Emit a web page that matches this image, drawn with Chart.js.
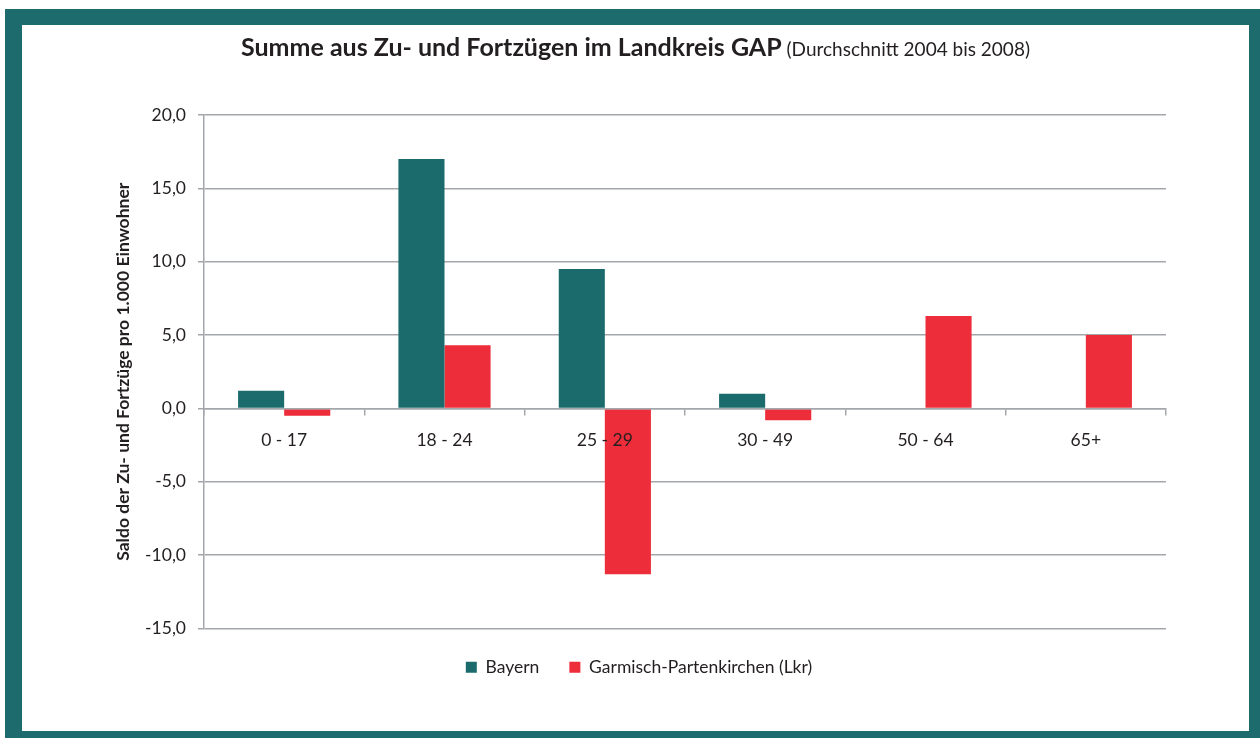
<!DOCTYPE html>
<html>
<head>
<meta charset="utf-8">
<script src="https://cdn.jsdelivr.net/npm/chart.js@4.4.1/dist/chart.umd.min.js"></script>
<style>
  html, body { margin: 0; padding: 0; background: #fff; }
  .frame {
    position: absolute; left: 5px; top: 9px;
    width: 1227px; height: 706px;
    border-style: solid; border-color: #1d6b6d;
    border-width: 16px 11px 7px 17px;
    background: #fff;
  }
  .frame canvas { display: block; }
</style>
</head>
<body>
<div class="frame"><canvas id="chart" width="1227" height="706"></canvas></div>
<script>
'use strict';

// data
const categories = ['0 - 17', '18 - 24', '25 - 29', '30 - 49', '50 - 64', '65+'];
const bayern = [1.2, 17.0, 9.5, 1.0, 0.05, 0.05];
const garmisch = [-0.5, 4.3, -11.3, -0.8, 6.3, 5.0];
const seriesNames = ['Bayern', 'Garmisch-Partenkirchen (Lkr)'];
const titleBold = 'Summe aus Zu- und Fortzügen im Landkreis GAP';
const titleNormal = ' (Durchschnitt 2004 bis 2008)';
const yTitle = 'Saldo der Zu- und Fortzüge pro 1.000 Einwohner';

const teal = '#1c6b6c';
const red = '#ee2d3a';
const gridGray = '#a3a7ab';
const textColor = '#231f20';
const fontFam = 'Lato, "Open Sans", sans-serif';
const fs = 17.5;

// title with bold + normal part, centred on the canvas
const titlePlugin = {
  id: 'mixedTitle',
  afterDraw(chart) {
    const ctx = chart.ctx;
    ctx.save();
    ctx.fillStyle = textColor;
    ctx.textBaseline = 'alphabetic';
    ctx.font = 'bold 25px ' + fontFam;
    const w1 = ctx.measureText(titleBold).width;
    ctx.font = '19px ' + fontFam;
    const w2 = ctx.measureText(titleNormal).width;
    const x0 = chart.width / 2 - (w1 + w2) / 2;
    ctx.font = 'bold 25px ' + fontFam;
    ctx.fillText(titleBold, x0, 31);
    ctx.font = '19px ' + fontFam;
    ctx.fillText(titleNormal, x0 + w1, 31);
    ctx.restore();
  }
};

// nudge the legend a bit to the right, as in the original
const legendShift = {
  id: 'legendShift',
  afterLayout(chart) {
    chart.legend.left += 14;
    chart.legend.right += 14;
  }
};

new Chart(document.getElementById('chart'), {
  type: 'bar',
  data: {
    labels: categories,
    datasets: [
      { label: seriesNames[0], data: bayern, backgroundColor: teal },
      { label: seriesNames[1], data: garmisch, backgroundColor: red }
    ]
  },
  options: {
    responsive: false,
    animation: false,
    layout: { padding: { top: 90, right: 83, bottom: 45, left: 62 } },
    datasets: {
      bar: { barPercentage: 1, categoryPercentage: 0.575 }
    },
    scales: {
      x: {
        position: { y: 0 },
        grid: {
          display: true, drawOnChartArea: false, drawTicks: true,
          tickLength: 6, offset: true, color: gridGray, lineWidth: 1.5
        },
        border: { display: true, color: gridGray, width: 1.5, z: 1 },
        ticks: { z: 1, padding: 15, color: textColor, font: { family: fontFam, size: fs } }
      },
      y: {
        min: -15, max: 20,
        afterFit(scale) { scale.width = 120; },
        ticks: {
          stepSize: 5, padding: 12, color: textColor,
          font: { family: fontFam, size: fs },
          callback: (v) => v.toFixed(1).replace('.', ',')
        },
        grid: { color: gridGray, lineWidth: 1.5, tickLength: 6 },
        border: { color: gridGray, width: 1.5 },
        title: {
          display: true, text: yTitle, color: textColor,
          font: { family: fontFam, size: fs, weight: 'bold' },
          padding: { top: 29, bottom: 0 }
        }
      }
    },
    plugins: {
      title: { display: false },
      tooltip: { enabled: false },
      legend: {
        position: 'bottom',
        labels: {
          boxWidth: 11, boxHeight: 11, padding: 30,
          color: textColor, font: { family: fontFam, size: fs }
        }
      }
    }
  },
  plugins: [titlePlugin, legendShift]
});
</script>
</body>
</html>
